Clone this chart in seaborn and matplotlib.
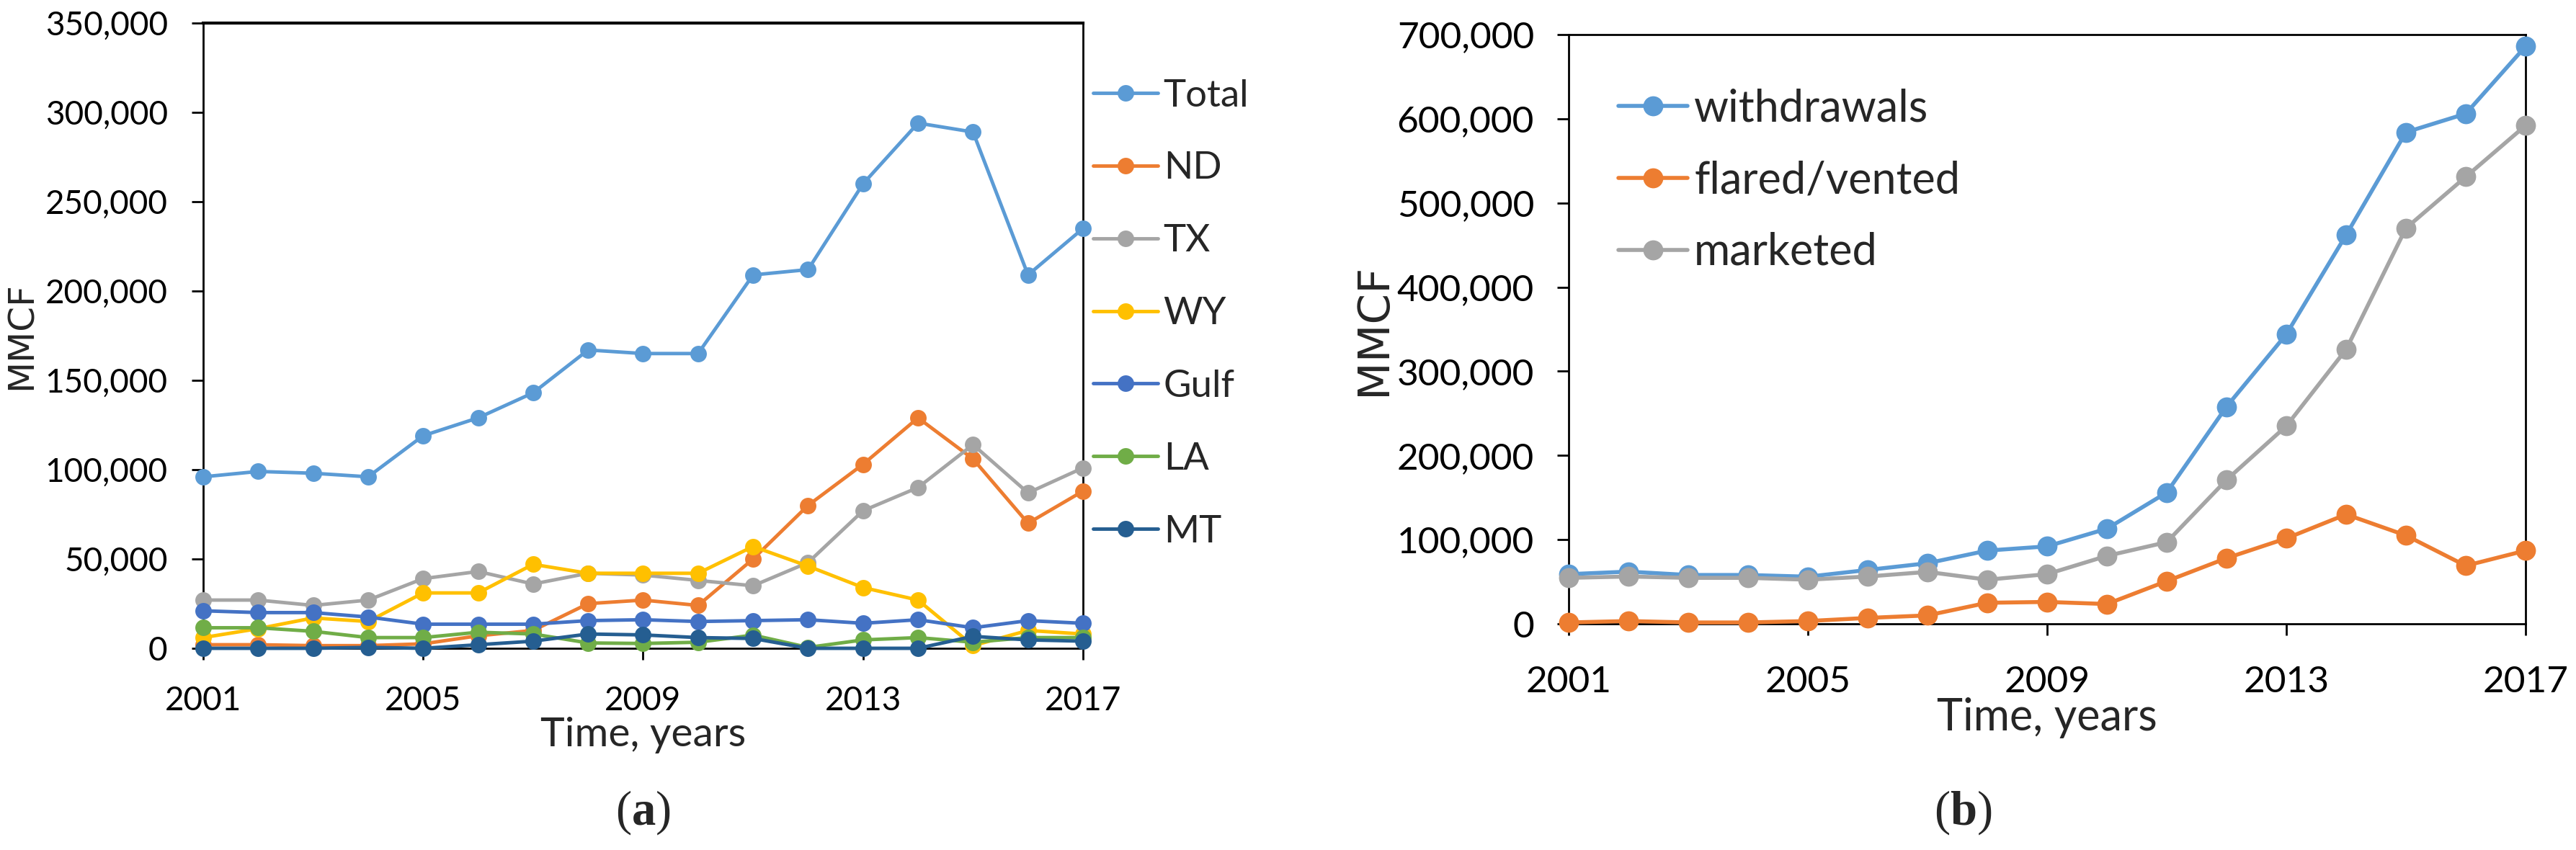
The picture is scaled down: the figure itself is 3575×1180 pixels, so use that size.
import matplotlib
matplotlib.use("Agg")
import matplotlib.pyplot as plt
import matplotlib.ticker as mticker
import seaborn as sns
import pandas as pd

# data (MMCF per year)
years = [2001, 2002, 2003, 2004, 2005, 2006, 2007, 2008, 2009,
         2010, 2011, 2012, 2013, 2014, 2015, 2016, 2017]

total = [96000, 99000, 98000, 96000, 119000, 129000, 143000, 167000, 165000,
         165000, 209000, 212000, 260000, 294000, 289000, 209000, 235000]
nd = [2000, 2000, 1500, 1500, 2500, 7000, 10000, 25000, 27000,
      24000, 50000, 80000, 103000, 129000, 106000, 70000, 88000]
tx = [27000, 27000, 24000, 27000, 39000, 43000, 36000, 42000, 41000,
      38000, 35000, 48000, 77000, 90000, 114000, 87000, 101000]
wy = [6000, 11000, 17000, 15000, 31000, 31000, 47000, 42000, 42000,
      42000, 57000, 46000, 34000, 27000, 1500, 10000, 8000]
gulf = [21000, 20000, 20000, 17500, 13500, 13500, 13500, 15500, 16000,
        15000, 15500, 16000, 14000, 16000, 11500, 15500, 14000]
la = [11500, 11500, 9500, 6000, 6000, 9000, 8000, 3000, 2700,
      3400, 7400, 500, 4700, 6000, 3400, 6000, 6000]
mt = [0, 0, 0, 500, 0, 2000, 4000, 8000, 7500,
      6000, 5500, 0, 0, 0, 6700, 4700, 4000]

withdrawals = [59000, 62000, 58000, 58000, 56000, 64000, 72000, 87000, 92000,
               113000, 156000, 258000, 344000, 462000, 584000, 606000, 686000]
flared = [1600, 3300, 1600, 1600, 3300, 7000, 10000, 25000, 26000,
          23500, 50700, 78000, 101500, 130000, 105000, 69000, 87000]
marketed = [54600, 56200, 54600, 54600, 52400, 56200, 61700, 52400, 59000,
            80700, 97000, 171000, 235000, 326000, 470000, 531000, 592000]

state_names = ["Total", "ND", "TX", "WY", "Gulf", "LA", "MT"]
state_colors = ["#5B9BD5", "#ED7D31", "#A5A5A5", "#FFC000", "#4472C4", "#70AD47", "#255E91"]
gas_names = ["withdrawals", "flared/vented", "marketed"]
gas_colors = ["#5B9BD5", "#ED7D31", "#A5A5A5"]
year_ticks = [2001, 2005, 2009, 2013, 2017]

sns.set_style("ticks")
plt.rcParams["font.family"] = ["Lato", "DejaVu Sans"]
plt.rcParams["mathtext.fontset"] = "custom"
plt.rcParams["mathtext.rm"] = "Liberation Serif"
plt.rcParams["mathtext.bf"] = "Liberation Serif:bold"


def long_frame(names, series):
    return pd.DataFrame({
        "year": years * len(names),
        "MMCF": [v for s in series for v in s],
        "series": [n for n in names for _ in years],
    })


def style_axes(ax, ymax, ystep, tick_size, xpad, ypad):
    ax.set_xlim(2001, 2017)
    ax.set_xticks(year_ticks)
    ax.set_ylim(0, ymax)
    ax.set_yticks(range(0, ymax + 1, ystep))
    ax.yaxis.set_major_formatter(mticker.FuncFormatter(lambda v, p: f"{int(v):,}"))
    ax.tick_params(direction="out", length=11.5, width=2, labelsize=tick_size, colors="black")
    ax.tick_params(axis="x", pad=xpad)
    ax.tick_params(axis="y", pad=ypad)
    for s in ax.spines.values():
        s.set_visible(True)
        s.set_linewidth(2)
        s.set_color("black")


fig = plt.figure(figsize=(35.75, 11.8), dpi=100)

# (a) by state
ax1 = fig.add_axes([0.07888, 0.23729, 0.34154, 0.73559])
sns.lineplot(data=long_frame(state_names, [total, nd, tx, wy, gulf, la, mt]),
             x="year", y="MMCF", hue="series", hue_order=state_names,
             palette=dict(zip(state_names, state_colors)),
             marker="o", markersize=16.5, markeredgewidth=0, linewidth=3.5,
             clip_on=False, zorder=3, ax=ax1)
style_axes(ax1, 350000, 50000, 33, 26, 24)
ax1.spines["top"].set_linewidth(3)
h, l = ax1.get_legend_handles_labels()
ax1.legend(h, l, loc="center left", bbox_to_anchor=(1.0115, 0.535), frameon=False,
           fontsize=38, labelspacing=1.02, handlelength=1.7, handletextpad=0.15,
           borderaxespad=0, borderpad=0)
ax1.set_xlabel("Time, years", fontsize=41)
ax1.xaxis.set_label_coords(0.5, -0.109)
ax1.set_ylabel("MMCF", fontsize=36, family="DejaVu Sans")
ax1.yaxis.set_label_coords(-0.1867, 0.5)

# (b) withdrawals / flared / marketed
ax2 = fig.add_axes([0.60895, 0.26610, 0.37147, 0.69322])
sns.lineplot(data=long_frame(gas_names, [withdrawals, flared, marketed]),
             x="year", y="MMCF", hue="series", hue_order=gas_names,
             palette=dict(zip(gas_names, gas_colors)),
             marker="o", markersize=20, markeredgewidth=0, linewidth=4,
             clip_on=False, zorder=3, ax=ax2)
style_axes(ax2, 700000, 100000, 37, 30, 23)
h, l = ax2.get_legend_handles_labels()
ax2.legend(h, l, loc="upper left", bbox_to_anchor=(0.052, 0.909), frameon=False,
           fontsize=44, labelspacing=0.7, handlelength=1.57, handletextpad=0.15,
           borderaxespad=0, borderpad=0)
ax2.set_xlabel("Time, years", fontsize=44)
ax2.xaxis.set_label_coords(0.5, -0.1247)
ax2.set_ylabel("MMCF", fontsize=44, family="DejaVu Sans")
ax2.yaxis.set_label_coords(-0.1815, 0.5)

fig.text(0.2495, 0.044, r"$\mathrm{(}\mathbf{a}\mathrm{)}$", ha="center", va="center", fontsize=48)
fig.text(0.762, 0.044, r"$\mathrm{(}\mathbf{b}\mathrm{)}$", ha="center", va="center", fontsize=48)

fig.savefig("out.png", dpi=100)
